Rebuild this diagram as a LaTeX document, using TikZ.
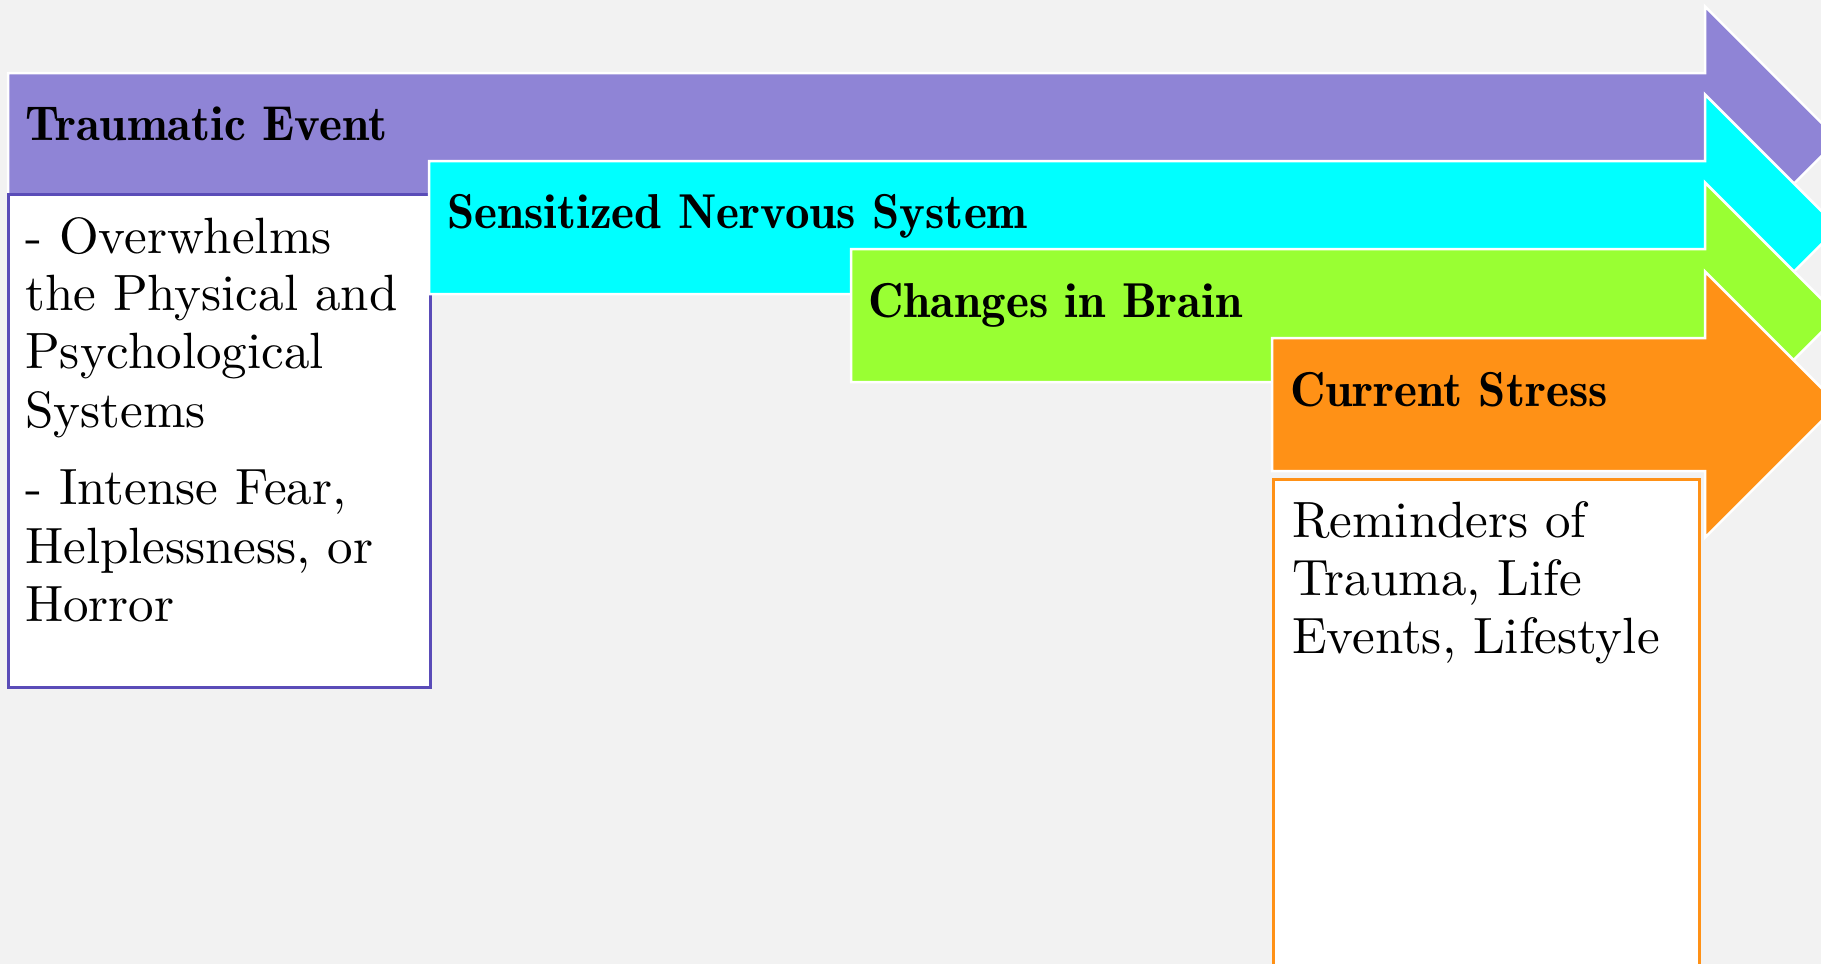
\documentclass[tikz,border=0pt]{standalone}
\usepackage{graphicx}
\usepackage{fontspec}
\newfontfamily\bodyserif{lmroman10-regular}[Extension=.otf]
\definecolor{pagebg}{HTML}{F2F2F2}
\definecolor{traumafill}{HTML}{8F84D6}
\definecolor{traumaedge}{HTML}{5A4CB8}
\definecolor{nervefill}{HTML}{00FFFF}
\definecolor{brainfill}{HTML}{99FF33}
\definecolor{stressfill}{HTML}{FF9116}
\tikzset{
  stagebody/.style={draw=white, line width=2.5pt, line join=miter},
  titletext/.style={anchor=base west, inner sep=0pt,
    font=\fontsize{49}{58}\fontseries{b}\selectfont},
  bodytext/.style={anchor=base west, inner sep=0pt,
    font=\bodyserif\fontsize{51}{58}\selectfont},
  notebox/.style={fill=white, line width=2.5pt, anchor=north west, inner sep=0pt}
}
% one process arrow: left edge, top edge, fill colour
\newcommand\stagearrow[3]{%
  \filldraw[stagebody, fill=#3] (#1,#2) -- (1705,#2) -- (1705,{#2-66.5})
    -- (1838,{#2+66.5}) -- (1705,{#2+199.5}) -- (1705,{#2+133})
    -- (#1,{#2+133}) -- cycle;}
\begin{document}
\begin{tikzpicture}[x=1pt,y=-1pt]
\useasboundingbox (0,0) rectangle (1821,964);
\clip (0,0) rectangle (1821,964);
\fill[pagebg] (0,0) rectangle (1821,964);

% stage 1
\stagearrow{8}{73}{traumafill}
\node[notebox, draw=traumaedge, minimum width=422pt, minimum height=493pt] (box1) at (7,193) {};
\node[titletext] (t1) at (25,140) {Traumatic Event};
\node[bodytext] (b1a) at (25,253) {- Overwhelms};
\node[bodytext] (b1b) at (25,310) {the Physical and};
\node[bodytext] (b1c) at (25,368) {Psychological};
\node[bodytext] (b1d) at (25,427) {Systems};
\node[bodytext] (b1e) at (25,504) {- Intense Fear,};
\node[bodytext] (b1f) at (25,563) {Helplessness, or};
\node[bodytext] (b1g) at (25,621) {Horror};

% stage 2
\stagearrow{429}{161}{nervefill}
\node[titletext] (t2) at (447,228) {Sensitized Nervous System};

% stage 3
\stagearrow{851}{249}{brainfill}
\node[titletext] (t3) at (868,317) {Changes in Brain};

% stage 4
\stagearrow{1272}{338}{stressfill}
\node[notebox, draw=stressfill, minimum width=426pt, minimum height=520pt] (box4) at (1272,478) {};
\node[titletext] (t4) at (1290,406) {Current Stress};
\node[bodytext] (b4a) at (1292,537) {Reminders of};
\node[bodytext] (b4b) at (1292,595) {Trauma, Life};
\node[bodytext] (b4c) at (1292,653) {Events, Lifestyle};
\end{tikzpicture}
\end{document}
